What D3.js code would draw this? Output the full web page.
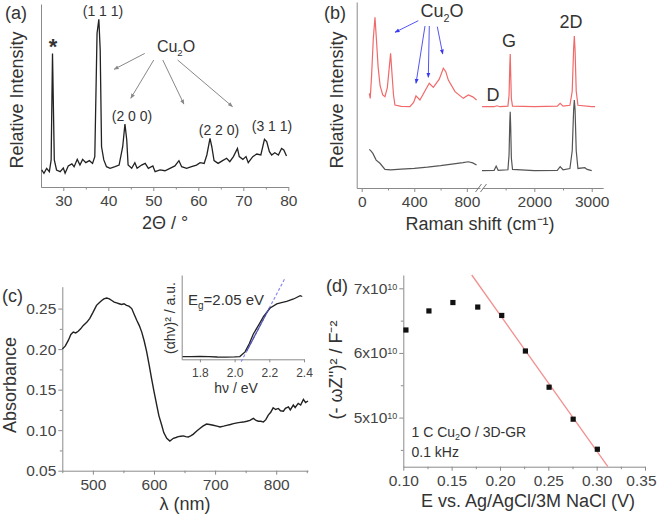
<!DOCTYPE html>
<html>
<head>
<meta charset="utf-8">
<script src="https://cdn.jsdelivr.net/npm/d3@7"></script>
<style>
body { margin: 0; background: #fff; }
svg { font-family: "Liberation Sans", Arial, sans-serif; }
.axis path, .axis line { stroke: #8a8a8a; stroke-width: 1; }
.axis text { fill: #444; font-size: 15.5px; font-family: "Liberation Sans", Arial, sans-serif; }
.lbl { fill: #333; }
</style>
</head>
<body>
<svg id="fig" width="659" height="520"></svg>
<script>
// ---- (a) XRD pattern: [2theta, intensity]
var xrdPattern = [[25.2,9.3],[25.7,7.5],[26.3,10.2],[26.9,8.4],[27.3,14.8],[27.6,73],[28.0,14.8],[28.5,9.3],
  [29.3,8.4],[30.0,10.4],[30.4,7.5],[31.1,11.5],[31.9,12.6],[32.4,11.1],[33.1,15.1],[33.7,12],[34.3,15.1],
  [35.0,13.3],[35.8,14.4],[36.5,12.9],[37.0,16.6],[37.5,84],[37.9,91.6],[38.2,74.9],[38.5,22],[39.0,14.8],
  [39.6,11.1],[40.4,10.2],[41.5,11.1],[42.4,12],[43.2,22],[43.7,34.4],[44.1,25.7],[44.4,12],[45.2,10.2],
  [45.9,13.3],[46.4,10.2],[47.4,12],[48.2,12.9],[48.9,10.2],[49.9,11.5],[50.4,8.4],[51.5,9.3],[52.6,8.9],
  [53.7,10.2],[54.8,11.5],[55.7,14.4],[56.3,11.1],[57.4,10.2],[58.5,11.1],[59.6,12],[60.4,13.3],[61.3,12.9],
  [61.9,17.5],[62.6,26.6],[63.0,22],[63.5,14.4],[64.4,12.9],[65.4,14.4],[66.3,15.7],[67.0,13.8],[67.8,16.6],
  [68.7,21.1],[69.1,16.6],[69.9,15.1],[70.6,16.6],[71.1,13.3],[72.1,16.6],[73.0,18],[73.9,17.5],[74.7,26.1],
  [75.2,24.8],[75.8,19.3],[76.3,17.5],[77.0,18.7],[77.8,17.5],[78.5,21.1],[79.0,20.2],[79.6,16.9]];
var xrdTicks = [30, 40, 50, 60, 70, 80];
var xrdMinor = [35, 45, 55, 65, 75];
var xrdPeakLabels = [["(1 1 1)", 103, 16], ["(2 0 0)", 132, 121], ["(2 2 0)", 219, 135], ["(3 1 1)", 272, 131]];
// Cu2O arrows, [from2theta, fromI, to2theta, toI]
var xrdArrows = [[48.1,73,41.3,64.3],[50.1,69.4,45.0,48.5],[52.1,69.4,56.8,45.3],[55.4,69.4,67.6,43.9]];

// ---- (b) Raman: [shift, intensity], low range and high range
var ramanRedLow = [[58,50.9],[65,48.2],[75,60],[88,80],[101,91.8],[112,80],[125,65],[140,55],[160,50],[177,49.1],
  [195,54],[210,65],[220,72.4],[230,62],[242,50],[253,44.6],[300,43.9],[367,43.7],[395,46],[413,49.5],[443,47.3],
  [480,52],[514,56.3],[545,54.1],[590,58.5],[621,64.4],[640,62.5],[659,58],[710,51.8],[773,48.2],[811,50],
  [845,49],[874,47.3]];
var ramanGrayLow = [[58,20.8],[70,20],[85,18.6],[110,15],[139,13.3],[177,10],[220,9.7],[300,10.2],[400,10.6],
  [500,11.2],[600,12],[700,13],[771,13.6],[811,14.1],[845,13.5],[874,12.4]];
var ramanRedHigh = [[1090,43.7],[1300,43.7],[1350,44.2],[1400,43.7],[1540,44],[1560,50],[1572,65],[1580,72],
  [1588,62],[1600,48],[1620,44],[2000,43.7],[2400,44],[2450,45.5],[2500,44],[2620,44.5],[2660,52],[2685,75],
  [2697,81.7],[2710,74],[2730,52],[2760,44.5],[3000,43.7],[3058,43.7]];
var ramanGrayHigh = [[1088,9.3],[1300,9.5],[1335,11.8],[1370,9.5],[1540,9.8],[1560,18],[1572,35],[1580,41],
  [1588,33],[1600,16],[1620,10],[2000,9.3],[2400,9.5],[2450,11.5],[2500,9.8],[2620,10.5],[2660,20],[2685,42],
  [2697,47.3],[2710,42],[2730,20],[2760,10.5],[2880,10.9],[2920,10],[3000,9.3]];
var ramanTicksLow = [0, 400, 800], ramanMinorLow = [200, 600];
var ramanTicksHigh = [2000, 3000], ramanMinorHigh = [1500, 2500];

// ---- (c) UV-vis absorbance: [wavelength nm, absorbance]
var uvSpectrum = [[450,0.200],[455,0.204],[460,0.211],[464,0.218],[468,0.221],[472,0.220],[476,0.222],[480,0.225],
  [484,0.229],[490,0.233],[495,0.238],[500,0.245],[506,0.254],[510,0.257],[514.5,0.260],[518,0.262],[522.7,0.263],
  [527,0.262],[531,0.260],[535,0.258],[539,0.257],[543,0.256],[547,0.255],[551,0.256],[555,0.254],[559,0.253],
  [563.6,0.250],[567,0.244],[571.8,0.2356],[576,0.229],[580,0.221],[584,0.210],[588,0.197],[592,0.181],
  [596,0.164],[600,0.148],[604.5,0.131],[608,0.118],[612.7,0.106],[616,0.097],[620.9,0.090],[626,0.0866],
  [631.7,0.090],[636,0.091],[639.8,0.092],[644,0.0925],[648,0.093],[652,0.092],[656,0.0915],[660,0.093],
  [664,0.0948],[670,0.099],[675,0.102],[680,0.105],[686,0.1075],[691,0.107],[697,0.106],[703,0.105],[708,0.104],
  [714,0.105],[719,0.106],[725,0.107],[730,0.108],[736,0.109],[741,0.1096],[746,0.110],[752,0.111],[757,0.112],
  [762.6,0.1145],[767,0.112],[770.8,0.111],[775,0.111],[779,0.110],[783,0.113],[787,0.1186],[791,0.122],
  [795,0.1276],[799,0.1255],[803.5,0.1268],[807,0.124],[811.7,0.1235],[815,0.127],[820,0.1288],[823,0.125],
  [828,0.131],[831,0.128],[836,0.133],[840,0.131],[844.5,0.138],[848,0.134],[852,0.136]];
var uvTicksX = [500, 600, 700, 800], uvMinorX = [450, 550, 650, 750, 850];
var uvTicksY = [0.05, 0.10, 0.15, 0.20, 0.25], uvMinorY = [0.075, 0.125, 0.175, 0.225];

// inset Tauc plot: [hv eV, (alpha h v)^2 a.u.]
var taucPlot = [[1.70,0.012],[1.75,0.012],[1.80,0.016],[1.85,0.012],[1.90,0.008],[1.95,0.007],[2.00,0.009],
  [2.03,0.013],[2.06,0.07],[2.085,0.17],[2.108,0.286],[2.14,0.40],[2.167,0.50],[2.205,0.60],[2.243,0.65],
  [2.27,0.665],[2.30,0.68],[2.34,0.71],[2.378,0.75],[2.39,0.74]];
var taucTicks = [1.8, 2.0, 2.2, 2.4];
var bandGap = 2.05, taucSlope = 4.0;

// ---- (d) Mott-Schottky: potential (V), (-wZ'')^2 in 1e10 F^-2
var mottPotential = [0.1027, 0.1265, 0.1513, 0.177, 0.2018, 0.2263, 0.2508, 0.2757, 0.3007];
var mottValue = [6.355, 6.65, 6.78, 6.71, 6.58, 6.03, 5.47, 4.975, 4.51];
var mottFit = {slope: -21.07, intercept: 10.805};
var mottTicksX = [0.10, 0.15, 0.20, 0.25, 0.30, 0.35], mottMinorX = [0.125, 0.175, 0.225, 0.275, 0.325];
var mottTicksY = [5, 6, 7], mottMinorY = [4.5, 5.5, 6.5];

var svg = d3.select("#fig");
var textCol = "#333";

svg.append("defs").selectAll("marker")
  .data([["arrGray", "#888"], ["arrBlue", "#3a3af0"]])
  .enter().append("marker")
  .attr("id", function(d) { return d[0]; })
  .attr("viewBox", "0 0 10 10").attr("refX", 9).attr("refY", 5)
  .attr("markerWidth", 5).attr("markerHeight", 5).attr("orient", "auto")
  .append("path").attr("d", "M0,1L10,5L0,9z").attr("fill", function(d) { return d[1]; });

// draws a bottom axis with labelled majors and unlabelled minors
function bottomAxis(scale, y, major, minor, fmt) {
  var g = svg.append("g").attr("class", "axis").attr("transform", "translate(0," + y + ")");
  g.call(d3.axisBottom(scale).tickValues(minor).tickSize(2.5).tickFormat("").tickSizeOuter(0));
  var g2 = svg.append("g").attr("class", "axis").attr("transform", "translate(0," + y + ")");
  g2.call(d3.axisBottom(scale).tickValues(major).tickSize(4).tickPadding(4).tickFormat(fmt).tickSizeOuter(0));
  g2.select(".domain").remove();
  return g2;
}
function leftAxis(scale, x, major, minor, fmt) {
  var g = svg.append("g").attr("class", "axis").attr("transform", "translate(" + x + ",0)");
  g.call(d3.axisLeft(scale).tickValues(minor).tickSize(2.5).tickFormat("").tickSizeOuter(0));
  var g2 = svg.append("g").attr("class", "axis").attr("transform", "translate(" + x + ",0)");
  g2.call(d3.axisLeft(scale).tickValues(major).tickSize(4).tickPadding(2).tickFormat(fmt).tickSizeOuter(0));
  g2.select(".domain").remove();
  return g2;
}
function label(txt, x, y, size, opts) {
  opts = opts || {};
  var t = svg.append("text").attr("class", "lbl").attr("x", x).attr("y", y)
    .attr("font-size", size + "px").attr("text-anchor", opts.anchor || "start")
    .attr("fill", opts.fill || textCol);
  if (opts.rotate) t.attr("transform", "rotate(-90," + x + "," + y + ")");
  return t.text(txt);
}
function cu2o(x, y, size, fill, anchor) {
  var t = label("", x, y, size, {fill: fill, anchor: anchor});
  t.append("tspan").text("Cu");
  t.append("tspan").attr("font-size", (size * 0.6) + "px").attr("dy", size * 0.25).text("2");
  t.append("tspan").attr("dy", -size * 0.25).text("O");
  return t;
}

// ================= (a) =================
var xA = d3.scaleLinear().domain([25, 80]).range([40.8, 288.3]);
var yA = d3.scaleLinear().domain([0, 100]).range([187, 4]);
bottomAxis(xA, 187, xrdTicks, xrdMinor, d3.format("d"));
svg.append("g").attr("class", "axis").attr("transform", "translate(41,0)")
  .call(d3.axisLeft(yA).tickValues([]).tickSizeOuter(0));
svg.append("path").datum(xrdPattern)
  .attr("d", d3.line().x(function(d) { return xA(d[0]); }).y(function(d) { return yA(d[1]); }))
  .attr("fill", "none").attr("stroke", "#222").attr("stroke-width", 1.3);
svg.append("g").selectAll("line").data(xrdArrows).enter().append("line")
  .attr("x1", function(d) { return xA(d[0]); }).attr("y1", function(d) { return yA(d[1]); })
  .attr("x2", function(d) { return xA(d[2]); }).attr("y2", function(d) { return yA(d[3]); })
  .attr("stroke", "#888").attr("stroke-width", 1).attr("marker-end", "url(#arrGray)");
svg.append("g").selectAll("text").data(xrdPeakLabels).enter().append("text")
  .attr("x", function(d) { return d[1]; }).attr("y", function(d) { return d[2]; })
  .attr("text-anchor", "middle").attr("font-size", "14px").attr("fill", textCol)
  .text(function(d) { return d[0]; });
label("*", 53, 54, 22, {anchor: "middle"}).attr("font-weight", "bold");
cu2o(176, 52, 16, textCol, "middle");
label("(a)", 5, 19, 18);
label("Relative Intensity", 23, 100, 18, {rotate: true, anchor: "middle"});
label("2\u0398 / \u00b0", 165, 229, 18, {anchor: "middle"});

// ================= (b) =================
var xBl = d3.scaleLinear().domain([-38, 900]).range([356.7, 480]);
var xBh = d3.scaleLinear().domain([1090, 3200]).range([482.1, 603.2]);
var yB = d3.scaleLinear().domain([0, 100]).range([188, 2]);
bottomAxis(xBl, 188, ramanTicksLow, ramanMinorLow, d3.format("d"));
bottomAxis(xBh, 188, ramanTicksHigh, ramanMinorHigh, d3.format("d"));
svg.append("g").attr("class", "axis").attr("transform", "translate(356.7,0)")
  .call(d3.axisLeft(yB).tickValues([]).tickSizeOuter(0));
// axis break marks
svg.append("g").selectAll("line").data([-2.5, 2.5]).enter().append("line")
  .attr("x1", function(d) { return 481 + d - 3; }).attr("y1", 192)
  .attr("x2", function(d) { return 481 + d + 3; }).attr("y2", 184)
  .attr("stroke", "#777").attr("stroke-width", 1);
var lineBl = d3.line().x(function(d) { return xBl(d[0]); }).y(function(d) { return yB(d[1]); });
var lineBh = d3.line().x(function(d) { return xBh(d[0]); }).y(function(d) { return yB(d[1]); });
[[ramanRedLow, lineBl, "#f06a6a"], [ramanRedHigh, lineBh, "#f06a6a"],
 [ramanGrayLow, lineBl, "#555"], [ramanGrayHigh, lineBh, "#555"]].forEach(function(s) {
  svg.append("path").datum(s[0]).attr("d", s[1]).attr("fill", "none")
    .attr("stroke", s[2]).attr("stroke-width", 1.2);
});
var blueArrows = [[418.3,20.7,395,32.3],[425,26,416,83.3],[429.3,26,428.3,77.3],[437.3,26.7,442.7,54]];
svg.append("g").selectAll("line").data(blueArrows).enter().append("line")
  .attr("x1", function(d) { return d[0]; }).attr("y1", function(d) { return d[1]; })
  .attr("x2", function(d) { return d[2]; }).attr("y2", function(d) { return d[3]; })
  .attr("stroke", "#5555f0").attr("stroke-width", 1).attr("marker-end", "url(#arrBlue)");
cu2o(442, 17, 18, "#3a3af0", "middle");
label("D", 493, 101, 18, {anchor: "middle"});
label("G", 509, 47, 18, {anchor: "middle"});
label("2D", 571, 28, 18, {anchor: "middle"});
label("(b)", 324, 19, 18);
label("Relative Intensity", 343, 100, 18, {rotate: true, anchor: "middle"});
label("Raman shift (cm\u207b\u00b9)", 480, 230, 18, {anchor: "middle"});

// ================= (c) =================
var xC = d3.scaleLinear().domain([450, 852]).range([62.3, 308]);
var yC = d3.scaleLinear().domain([0.05, 0.277]).range([470.7, 286.7]);
bottomAxis(xC, 470.7, uvTicksX, uvMinorX, d3.format("d"));
leftAxis(yC, 62.3, uvTicksY, uvMinorY, d3.format(".2f"));
svg.append("path").datum(uvSpectrum)
  .attr("d", d3.line().x(function(d) { return xC(d[0]); }).y(function(d) { return yC(d[1]); }))
  .attr("fill", "none").attr("stroke", "#222").attr("stroke-width", 1.4);
label("(c)", 2, 302, 18);
label("Absorbance", 16, 385, 18, {rotate: true, anchor: "middle"});
label("\u03bb (nm)", 185, 510, 18, {anchor: "middle"});

// inset
var xI = d3.scaleLinear().domain([1.695, 2.4]).range([181.7, 304]);
var yI = d3.scaleLinear().domain([-0.02, 1]).range([359.3, 275]);
var gi = svg.append("g").attr("class", "axis").attr("transform", "translate(0,359.3)");
gi.call(d3.axisBottom(xI).tickValues(taucTicks).tickSize(3).tickPadding(6).tickFormat(d3.format(".1f")).tickSizeOuter(0));
gi.selectAll(".tick text").style("font-size", "12px");
svg.append("g").attr("class", "axis").attr("transform", "translate(181.7,0)")
  .call(d3.axisLeft(yI).tickValues([]).tickSizeOuter(0));
var tangent = [bandGap - 0.012, 2.29].map(function(e) { return [e, taucSlope * (e - bandGap)]; });
var fitPart = [2.07, 2.2].map(function(e) { return [e, taucSlope * (e - bandGap)]; });
var lineI = d3.line().x(function(d) { return xI(d[0]); }).y(function(d) { return yI(d[1]); });
svg.append("path").datum(tangent).attr("d", lineI).attr("fill", "none")
  .attr("stroke", "#8c8cf0").attr("stroke-width", 1.2).attr("stroke-dasharray", "3,2");
svg.append("path").datum(taucPlot).attr("d", lineI).attr("fill", "none")
  .attr("stroke", "#222").attr("stroke-width", 1.3);
svg.append("path").datum(fitPart).attr("d", lineI).attr("fill", "none")
  .attr("stroke", "#5050b0").attr("stroke-width", 1.2);
var eg = label("E", 188, 305, 15);
eg.append("tspan").attr("font-size", "10px").attr("dy", 4).text("g");
eg.append("tspan").attr("dy", -4).text("=2.05 eV");
label("(\u03b1h\u03bd)\u00b2 / a.u.", 175, 318, 14, {rotate: true, anchor: "middle"});
label("h\u03bd / eV", 236, 393, 14, {anchor: "middle"});

// ================= (d) =================
var xD = d3.scaleLinear().domain([0.10, 0.35]).range([403.3, 645]);
var yD = d3.scaleLinear().domain([4.24, 7.206]).range([466.7, 275]);
bottomAxis(xD, 466.7, mottTicksX, mottMinorX, d3.format(".2f"));
var gyd = leftAxis(yD, 403.3, mottTicksY, mottMinorY, d3.format("d"));
gyd.selectAll(".tick text").text(null).each(function(d) {
  var t = d3.select(this);
  t.append("tspan").text(d + "x10");
  t.append("tspan").attr("dy", "-0.45em").attr("font-size", "9px").text("10");
});
// fit line clipped to the plot box
var fitEnds = [yD.domain()[1], yD.domain()[0]].map(function(v) {
  return [(v - mottFit.intercept) / mottFit.slope, v];
});
svg.append("line")
  .attr("x1", xD(fitEnds[0][0])).attr("y1", yD(fitEnds[0][1]))
  .attr("x2", xD(fitEnds[1][0])).attr("y2", yD(fitEnds[1][1]))
  .attr("stroke", "#f29090").attr("stroke-width", 1.3);
svg.append("g").selectAll("rect").data(mottPotential).enter().append("rect")
  .attr("x", function(d) { return xD(d) - 2.6; })
  .attr("y", function(d, i) { return yD(mottValue[i]) - 2.6; })
  .attr("width", 5.2).attr("height", 5.2).attr("fill", "#111");
var ann = label("1 C ", 411.5, 437, 14);
ann.append("tspan").text("Cu");
ann.append("tspan").attr("font-size", "9px").attr("dy", 3).text("2");
ann.append("tspan").attr("dy", -3).text("O / 3D-GR");
label("0.1 kHz", 411.5, 457, 14);
label("(d)", 326, 292, 18);
label("(- \u03c9Z'')\u00b2 / F\u207b\u00b2", 342, 370, 18, {rotate: true, anchor: "middle"});
label("E vs. Ag/AgCl/3M NaCl (V)", 528, 507, 18, {anchor: "middle"});
// keep the last tick label of (d) inside the canvas
var lastTick = d3.select(svg.selectAll(".axis .tick text").nodes().filter(function(n) {
  return n.textContent === "0.35";
})[0]);
if (!lastTick.empty()) {
  var bb = lastTick.node().getBBox();
  var over = xD(0.35) + bb.width / 2 - 656;
  if (over > 0) lastTick.attr("dx", -over);
}
</script>
</body>
</html>
